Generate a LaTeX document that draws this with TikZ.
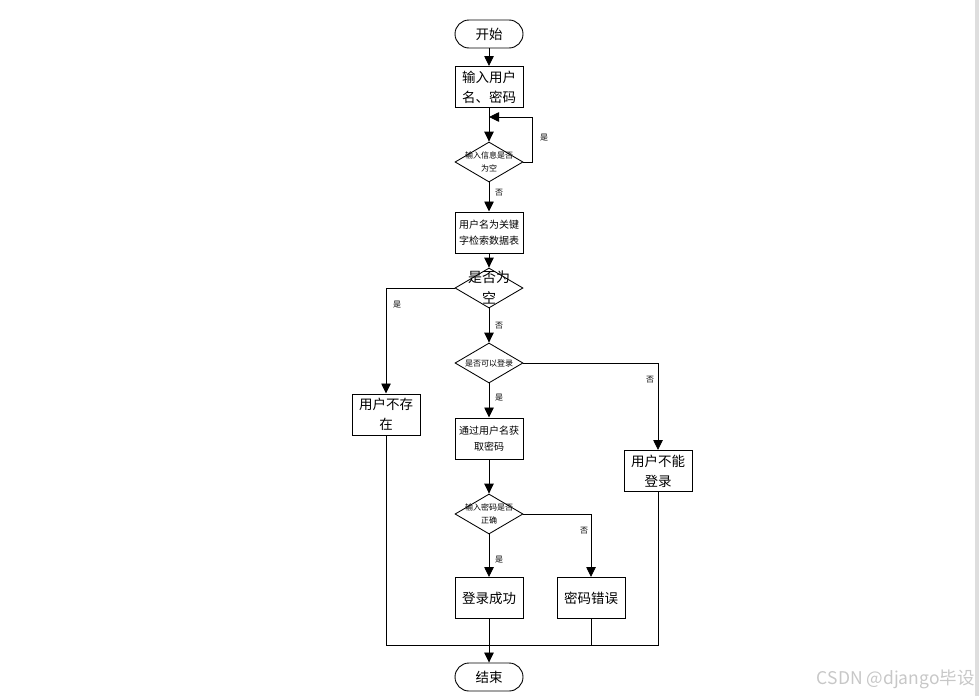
\documentclass[tikz,border=0pt]{standalone}
\usepackage{fontspec}
\setmainfont{Noto Sans CJK SC}
\usetikzlibrary{arrows.meta,shapes.geometric}
\begin{document}
\begin{tikzpicture}[x=1pt,y=-1pt,
  line width=0.85pt,
  arr/.style={-{Triangle[length=10pt,width=9.5pt]}},
  procbox/.style={draw,line width=1pt,minimum width=68pt,minimum height=41pt,inner sep=0pt,align=center},
  termbox/.style={draw,line width=0.9pt,rounded corners=14pt,minimum width=68pt,minimum height=28pt,inner sep=0pt},
  dia/.style={draw,line width=0.85pt,diamond,minimum width=68pt,minimum height=40pt,inner sep=0pt},
  lbl/.style={font=\fontsize{8}{9}\selectfont,inner sep=0pt},
  big/.style={font=\fontsize{13.5}{20}\selectfont},
  mid/.style={font=\fontsize{10}{16}\selectfont},
  tiny/.style={font=\fontsize{8}{13}\selectfont,align=center,inner sep=0pt}]
\useasboundingbox (0,0) rectangle (979,696);
\fill[black!13] (975,0) rectangle (979,696);

% nodes
\node[termbox,big] (start) at (489,34) {开始};
\node[procbox,big] (in1) at (489,87) {输入用户\\名、密码};
\node[dia] (d1) at (489,162) {};
\node[tiny] (d1t) at (489,162) {输入信息是否\\为空};
\node[procbox,mid] (q) at (489,232.5) {用户名为关键\\字检索数据表};
\node[dia] (d2) at (489,288) {};
\node[big,align=center,inner sep=0pt,font=\fontsize{14}{21}\selectfont] (d2t) at (489,287) {是否为\\空};
\node[dia] (d3) at (489,363) {};
\node[tiny] (d3t) at (489,363) {是否可以登录};
\node[procbox,big] (nexist) at (386,414.5) {用户不存\\在};
\node[procbox,mid] (getpw) at (489,438.5) {通过用户名获\\取密码};
\node[procbox,big] (nologin) at (658,471) {用户不能\\登录};
\node[dia] (d4) at (489,514) {};
\node[tiny] (d4t) at (489,514) {输入密码是否\\正确};
\node[procbox,big] (ok) at (489,598) {登录成功};
\node[procbox,big] (pwerr) at (591,598) {密码错误};
\node[termbox,big] (end) at (489,677) {结束};

\coordinate (loopend) at (489,117);
\coordinate (join) at (489,645);

% connectors
\draw[arr] (start) -- (in1);
\draw[arr] (in1) -- (d1);
\draw[arr] (d1.east) -- (532,162) |- (loopend);
\draw[arr] (d1) -- (q);
\draw[arr] (q) -- (d2);
\draw[arr] (d2.west) -| (nexist.north);
\draw[arr] (d2) -- (d3);
\draw[arr] (d3.east) -| (nologin.north);
\draw[arr] (d3) -- (getpw);
\draw[arr] (getpw) -- (d4);
\draw[arr] (d4) -- (ok);
\draw[arr] (d4.east) -| (pwerr.north);
\draw (nexist.south) |- (join);
\draw (nologin.south) |- (join);
\draw (pwerr.south) |- (join);
\draw[arr] (ok.south) -- (end.north);

% labels
\node[lbl] (l1) at (544,138) {是};
\node[lbl] (l2) at (499,193) {否};
\node[lbl] (l3) at (397,305) {是};
\node[lbl] (l4) at (499,326) {否};
\node[lbl] (l5) at (650,380) {否};
\node[lbl] (l6) at (499,398) {是};
\node[lbl] (l7) at (584,531) {否};
\node[lbl] (l8) at (499,560) {是};

% watermark
\node[anchor=east,text=black!22,font=\fontsize{17.5}{19}\selectfont,inner sep=0pt] (wm) at (975,679) {CSDN @django毕设};
\end{tikzpicture}
\end{document}
